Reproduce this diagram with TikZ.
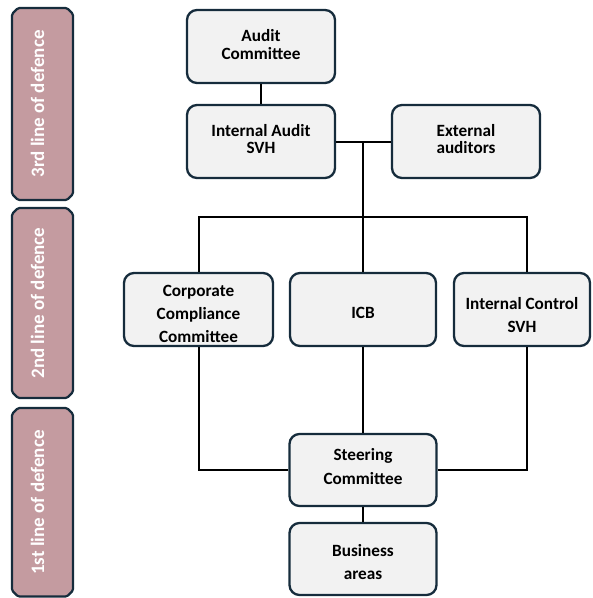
\documentclass[tikz,border=0pt]{standalone}
\usepackage{fontspec}
\setmainfont{Carlito}
\usepackage{graphicx}
\usetikzlibrary{calc}
\definecolor{barfill}{RGB}{196,155,160}
\definecolor{edgecol}{RGB}{22,44,60}
\definecolor{boxfill}{RGB}{242,242,242}
\newcommand\boxtxt[3]{\raisebox{#1}[\height][\depth]{\fontsize{17.2}{#2}\selectfont\begin{tabular}{@{}c@{}}#3\end{tabular}}}
\newcommand\chamf[4]{\filldraw[barline] (#1+6,#2) -- (#3-6,#2) -- (#3,#2+6) -- (#3,#4-6) -- (#3-6,#4) -- (#1+6,#4) -- (#1,#4-6) -- (#1,#2+6) -- cycle;}
\tikzset{
  barline/.style={draw=edgecol, fill=barfill, line width=2.2pt, rounded corners=1.5pt},
  bartext/.style={rotate=90, inner sep=0pt, text=white, font=\fontsize{19}{21}\selectfont\bfseries},
  box/.style={draw=edgecol, line width=2.3pt, fill=boxfill, rounded corners=10pt, inner sep=0pt, font=\bfseries, text=black},
  conn/.style={draw=black, line width=2pt}
}
\begin{document}
\begin{tikzpicture}[x=1pt,y=-1pt]
\useasboundingbox (0,0) rectangle (593,598);
% side bars
\chamf{12}{8}{73}{200}
\chamf{12}{208}{73}{398}
\chamf{12}{408}{73}{596.5}
\node[bartext] (l3) at (37.5,104) {3rd line of defence};
\node[bartext] (l2) at (37.5,303) {2nd line of defence};
\node[bartext] (l1) at (37.5,502.5) {1st line of defence};
% coordinates
\coordinate (bus) at (363,217);
\coordinate (icx) at (527,217);
% boxes
\node[box, minimum width=148pt, minimum height=73pt] (ac) at (261,46.5) {\boxtxt{0pt}{18pt}{Audit\\Committee}};
\node[box, minimum width=148pt, minimum height=73pt] (ia) at (261,141.5) {\boxtxt{0pt}{17pt}{Internal Audit\\SVH}};
\node[box, minimum width=148pt, minimum height=73pt] (ea) at (466,141.5) {\boxtxt{0pt}{17pt}{External\\auditors}};
\node[box, minimum width=149pt, minimum height=73pt] (cc) at (198.5,309.5) {\boxtxt{-5.4pt}{23pt}{Corporate\\Compliance\\Committee}};
\node[box, minimum width=146pt, minimum height=73pt] (icb) at (363,309.5) {\boxtxt{-4.9pt}{18pt}{ICB}};
\node[box, minimum width=136pt, minimum height=73pt] (ic) at (522,309.5) {\boxtxt{-6.4pt}{23pt}{Internal Control\\SVH}};
\node[box, minimum width=147pt, minimum height=72pt] (st) at (363,470) {\boxtxt{2pt}{24pt}{Steering\\Committee}};
\node[box, minimum width=147pt, minimum height=72pt] (ba) at (363,559) {\boxtxt{-3.9pt}{23pt}{Business\\areas}};
% connectors
\draw[conn] (ac) -- (ia);
\draw[conn] (ia.east) -- (ea.west);
\draw[conn] (ia.east -| bus) -- (bus);
\draw[conn] (cc.north) |- (icx) -- (icx |- ic.north);
\draw[conn] (icb.north) -- (icb.north |- bus);
\draw[conn] (icb.south) -- (st.north);
\draw[conn] (cc.south) |- (st.west);
\draw[conn] (st.east) -| (icx |- ic.south);
\draw[conn] (st.south) -- (ba.north);
\end{tikzpicture}
\end{document}
